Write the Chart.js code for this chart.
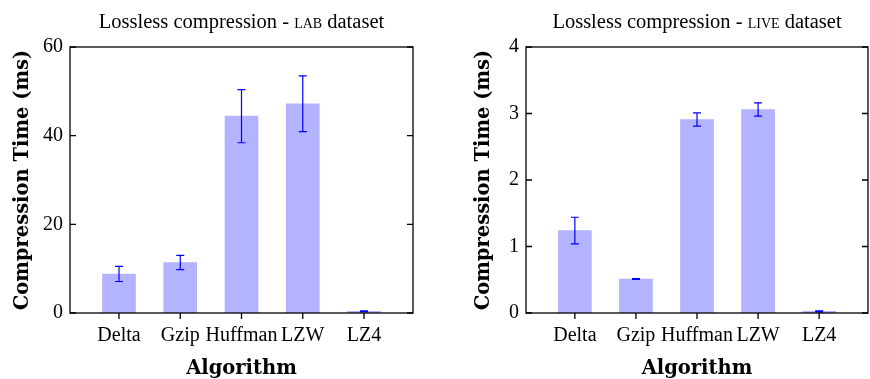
<!DOCTYPE html>
<html>
<head>
<meta charset="utf-8">
<script src="https://cdn.jsdelivr.net/npm/chart.js@4/dist/chart.umd.min.js"></script>
<style>
html,body{margin:0;padding:0;background:#fff;}
#wrap{position:relative;width:870px;height:379px;}
canvas{position:absolute;top:0;}
#c1{left:0;}
#c2{left:435px;}
</style>
</head>
<body>
<div id="wrap">
<canvas id="c1" width="435" height="379"></canvas>
<canvas id="c2" width="435" height="379"></canvas>
</div>
<script>
// ---- data ----
const categories = ['Delta', 'Gzip', 'Huffman', 'LZW', 'LZ4'];
const labTime  = [8.8, 11.4, 44.4, 47.2, 0.4];
const labErr   = [1.7, 1.6, 6.0, 6.3, 0.1];
const liveTime = [1.24, 0.51, 2.91, 3.06, 0.025];
const liveErr  = [0.2, 0.006, 0.1, 0.1, 0.008];
const labTicks  = [0, 20, 40, 60];
const liveTicks = [0, 1, 2, 3, 4];
const titleParts = {
  lab:  ['Lossless compression - ', 'lab', ' dataset'],
  live: ['Lossless compression - ', 'live', ' dataset']
};

const SERIF = "'Liberation Serif', 'Times New Roman', serif";
const BOLD = "'DejaVu Serif', serif";
const BAR_FILL = '#b3b3ff';
const ERR_COLOR = '#0000ff';

// error bars
const errorBarPlugin = {
  id: 'errorBars',
  afterDatasetsDraw(chart, args, opts) {
    const {ctx, scales: {x, y}} = chart;
    const vals = opts.values, errs = opts.errors;
    ctx.save();
    ctx.strokeStyle = ERR_COLOR;
    ctx.lineWidth = 1.2;
    vals.forEach((v, i) => {
      const px = x.getPixelForValue(i);
      const yt = y.getPixelForValue(v + errs[i]);
      const yb = y.getPixelForValue(v - errs[i]);
      ctx.beginPath();
      ctx.moveTo(px, yt); ctx.lineTo(px, yb);
      ctx.moveTo(px - 4, yt); ctx.lineTo(px + 4, yt);
      ctx.moveTo(px - 4, yb); ctx.lineTo(px + 4, yb);
      ctx.stroke();
    });
    ctx.restore();
  }
};

// frame & tick marks
const framePlugin = {
  id: 'frame',
  afterDatasetsDraw(chart) {
    const {ctx, chartArea: a, scales: {x, y}} = chart;
    ctx.save();
    ctx.strokeStyle = '#000';
    ctx.lineWidth = 1.3;
    ctx.strokeRect(a.left, a.top, a.right - a.left, a.bottom - a.top);
    ctx.beginPath();
    y.ticks.forEach(t => {
      const py = y.getPixelForValue(t.value);
      ctx.moveTo(a.left, py); ctx.lineTo(a.left + 6, py);
      ctx.moveTo(a.right, py); ctx.lineTo(a.right - 6, py);
    });
    x.ticks.forEach(t => {
      const px = x.getPixelForValue(t.value);
      ctx.moveTo(px, a.bottom); ctx.lineTo(px, a.bottom + 6);
    });
    ctx.stroke();
    ctx.restore();
  }
};

// title with small caps part
const titlePlugin = {
  id: 'scTitle',
  afterDraw(chart, args, opts) {
    const {ctx, chartArea: a} = chart;
    const parts = opts.parts;
    const fonts = ["20.5px " + SERIF, "small-caps 20.5px " + SERIF, "20.5px " + SERIF];
    ctx.save();
    ctx.fillStyle = '#000';
    ctx.textBaseline = 'alphabetic';
    let widths = parts.map((p, i) => { ctx.font = fonts[i]; return ctx.measureText(p).width; });
    const total = widths.reduce((s, w) => s + w, 0);
    let xx = (a.left + a.right) / 2 - total / 2;
    parts.forEach((p, i) => {
      ctx.font = fonts[i];
      ctx.textAlign = 'left';
      ctx.fillText(p, xx, 28);
      xx += widths[i];
    });
    ctx.restore();
  }
};

function makeChart(id, values, errors, ticksArr, ymax, parts, padLeft, padRight) {
  const tickFont = {family: SERIF, size: 20};
  const titleFont = {family: BOLD, size: 19.5, weight: 'bold'};
  const xTitleFont = {family: BOLD, size: 19.5, weight: 'bold', lineHeight: 1.0};
  return new Chart(document.getElementById(id), {
    type: 'bar',
    data: {
      datasets: [{
        data: categories.map((c, i) => ({x: i, y: values[i]})),
        backgroundColor: BAR_FILL,
        borderWidth: 0,
        barThickness: 33
      }]
    },
    options: {
      responsive: false,
      devicePixelRatio: 1,
      animation: false,
      layout: {padding: {left: padLeft, right: padRight, top: 47, bottom: 0}},
      plugins: {
        legend: {display: false},
        tooltip: {enabled: false},
        title: {display: false},
        errorBars: {values: values, errors: errors},
        scTitle: {parts: parts}
      },
      scales: {
        x: {
          type: 'linear',
          min: -0.8, max: 4.8,
          offset: false,
          afterBuildTicks: s => { s.ticks = categories.map((c, i) => ({value: i})); },
          afterFit: s => { s.height = 66; },
          ticks: {
            callback: v => categories[v],
            autoSkip: false, maxRotation: 0, minRotation: 0,
            padding: 11, font: tickFont, color: '#000'
          },
          grid: {display: false, drawTicks: false, offset: false},
          border: {display: false},
          title: {display: true, text: 'Algorithm', font: xTitleFont, color: '#000', padding: {top: 0, bottom: 0}}
        },
        y: {
          min: 0, max: ymax,
          afterBuildTicks: s => { s.ticks = ticksArr.map(v => ({value: v})); },
          afterFit: s => { s.width = (id === 'c1' ? 70 : 91) - padLeft; },
          ticks: {padding: 7, font: tickFont, color: '#000'},
          grid: {display: false, drawTicks: false},
          border: {display: false},
          title: {display: true, text: 'Compression Time (ms)', font: titleFont, color: '#000', padding: {top: 1, bottom: 0}}
        }
      }
    },
    plugins: [errorBarPlugin, framePlugin, titlePlugin]
  });
}

makeChart('c1', labTime, labErr, labTicks, 60, titleParts.lab, 10, 22);
makeChart('c2', liveTime, liveErr, liveTicks, 4, titleParts.live, 36, 2);
</script>
</body>
</html>
